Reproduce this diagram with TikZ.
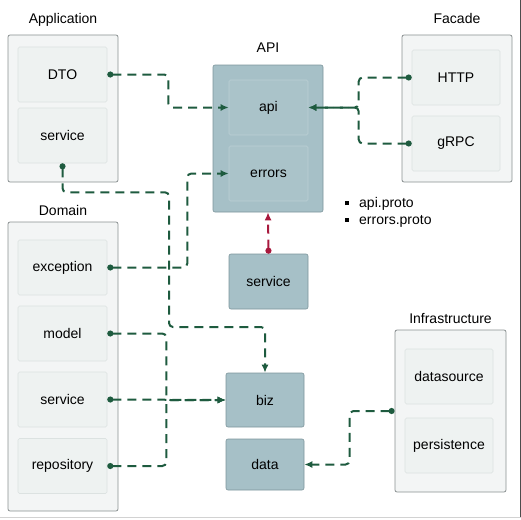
\documentclass[tikz,border=0pt]{standalone}
\usepackage{fontspec}
\setmainfont{Liberation Sans}
\usetikzlibrary{arrows.meta,positioning}
\definecolor{boxfill}{HTML}{F3F5F5}
\definecolor{boxline}{HTML}{8A9091}
\definecolor{cellfill}{HTML}{EEF2F1}
\definecolor{cellline}{HTML}{DCE2E1}
\definecolor{apifill}{HTML}{A6C0C7}
\definecolor{apiline}{HTML}{7D959B}
\definecolor{apicell}{HTML}{AAC3C9}
\definecolor{apicellline}{HTML}{BCD0D5}
\definecolor{depgreen}{HTML}{1E5B3F}
\definecolor{depred}{HTML}{A8193D}
\tikzset{
  container/.style={draw=boxline,fill=boxfill,rounded corners=2pt,line width=0.8pt},
  cell/.style={draw=cellline,fill=cellfill,rounded corners=1.5pt,line width=0.6pt,
    minimum width=89pt,minimum height=55pt,inner sep=0pt},
  apibox/.style={draw=apiline,fill=apifill,rounded corners=2pt,line width=0.6pt,inner sep=0pt},
  apicellbox/.style={draw=apicellline,fill=apicell,rounded corners=1.5pt,line width=0.6pt,
    minimum width=79pt,minimum height=55pt,inner sep=0pt},
  title/.style={font=\fontsize{14}{16}\selectfont,inner sep=0pt,text height=10pt,text depth=3pt},
  listitem/.style={anchor=west,font=\fontsize{14}{16}\selectfont,inner sep=0pt},
  dep/.style={depgreen,line width=2pt,dash pattern=on 9pt off 6pt,rounded corners=4pt,
    {Circle[length=6pt]}-{Latex[length=8pt,width=7pt]}},
  reddep/.style={dep,depred}
}
\begin{document}
\begin{tikzpicture}[x=1pt,y=-1pt,font=\fontsize{14}{16}\selectfont]
    \useasboundingbox (0,0) rectangle (521,519);
    \draw[gray!35,line width=1pt] (0,517) -- (521,517);
    \draw[black!70,line width=1pt] (520.5,0) -- (520.5,517);

    % Application
    \node[container,minimum width=110pt,minimum height=147pt] (app) at (63,108.5) {};
    \node[title,above=8pt of app] (applabel) {Application};
    \node[cell] (dto) at (62.5,74.5) {DTO};
    \node[cell] (appsvc) at (62.5,135.5) {service};

    % Domain
    \node[container,minimum width=110pt,minimum height=289pt] (dom) at (63,366.5) {};
    \node[title,above=3pt of dom] (domlabel) {Domain};
    \foreach \name/\txt/\y in {exc/exception/267.5,model/model/333.5,
        domsvc/service/399.5,repo/repository/466}
        \node[cell] (\name) at (62.5,\y) {\txt};

    % API
    \node[apibox,minimum width=110pt,minimum height=147pt] (apibox) at (268,138.5) {};
    \node[title,above=9pt of apibox] (apilabel) {API};
    \node[apicellbox] (api) at (268.5,107.5) {api};
    \node[apicellbox] (errors) at (268.5,173.5) {errors};
    \node[listitem] (apiproto) at (345,204) {\rule[2.5pt]{4pt}{4pt}\hspace{10pt}api.proto};
    \node[listitem] (errproto) at (345,221) {\rule[2.5pt]{4pt}{4pt}\hspace{10pt}errors.proto};

    % Facade
    \node[container,minimum width=110pt,minimum height=147pt] (facade) at (457,108.5) {};
    \node[title,above=8pt of facade] (facadelabel) {Facade};
    \node[cell,minimum width=88pt] (http) at (456,77.5) {HTTP};
    \node[cell,minimum width=88pt] (grpc) at (456,143.5) {gRPC};

    % service, biz, data
    \node[apibox,minimum width=79pt,minimum height=55pt] (apisvc) at (268.5,281.5) {service};
    \node[apibox,minimum width=78pt,minimum height=54pt] (biz) at (265,400) {biz};
    \node[apibox,minimum width=78pt,minimum height=51pt] (data) at (265,464.5) {data};

    % Infrastructure
    \node[container,minimum width=111pt,minimum height=162pt] (infra) at (450.5,411) {};
    \node[title,above=3pt of infra] (infralabel) {Infrastructure};
    \node[cell,minimum width=88pt] (dsrc) at (449,376.5) {datasource};
    \node[cell,minimum width=88pt] (persist) at (449,445.5) {persistence};

    % dependencies
    \draw[dep] (dto.east) -- ++(61,0) |- (api.west);
    \draw[dep] (appsvc.south) -- ++(0,29) -| (169,327) -| (biz.north);
    \draw[dep] (exc.east) -- ++(80,0) |- (errors.west);
    \draw[dep] (http.west) -- ++(-53,0) |- (api.east);
    \draw[dep] (grpc.west) -- ++(-53,0) |- (api.east);
    \draw[reddep] (apisvc.north) -- (apibox.south);
    \draw[dep] (model.east) -- ++(59,0) |- (biz.west);
    \draw[dep] (repo.east) -- ++(59,0) |- (biz.west);
    \draw[dep] (domsvc.east) -- (biz.west);
    \draw[dep] (infra.west) -- ++(-45,0) |- (data.east);
\end{tikzpicture}
\end{document}
